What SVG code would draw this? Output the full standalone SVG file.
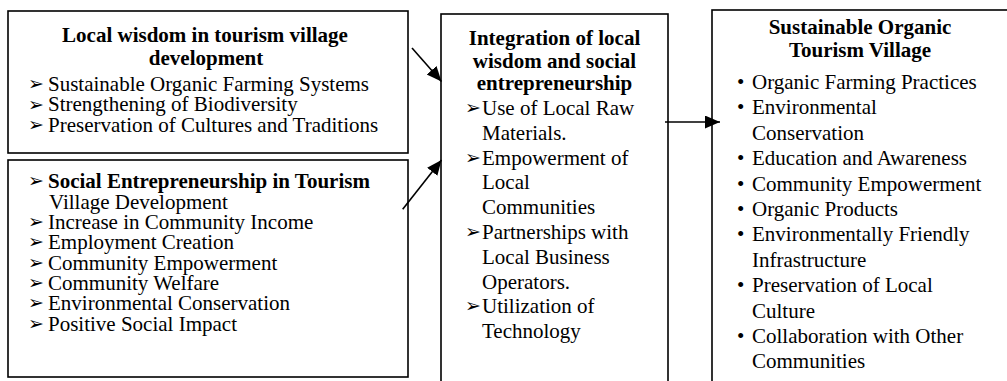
<svg xmlns="http://www.w3.org/2000/svg" width="1007" height="381" viewBox="0 0 1007 381">
  <style>
    .box { fill: #fff; stroke: #000; stroke-width: 1.6; }
    .t { font-family: 'Liberation Serif', 'Times New Roman', Tinos, 'DejaVu Serif', serif; font-size: 21px; fill: #000; }
    .b { font-weight: bold; }
    .c { text-anchor: middle; }
    .arw { font-family: 'DejaVu Sans', sans-serif; font-size: 19px; fill: #000; }
    .dot { font-family: 'Liberation Serif', 'DejaVu Serif', serif; font-size: 21px; fill: #000; }
    .link { stroke: #000; stroke-width: 1.6; fill: none; marker-end: url(#head); }
  </style>
  <defs>
    <marker id="head" markerUnits="userSpaceOnUse" markerWidth="16" markerHeight="14" refX="15" refY="6.5" orient="auto">
      <path d="M0,0 L15,6.5 L0,13 Z" fill="#000"/>
    </marker>
  </defs>
  <rect width="1007" height="381" fill="#fff"/>

  <!-- upper left: local wisdom -->
  <g id="local-wisdom">
    <rect class="box" x="8" y="11" width="400" height="142"/>
    <text class="t b c" x="205" y="42">Local wisdom in tourism village</text>
    <text class="t b c" x="206" y="65">development</text>
    <text class="arw" x="28" y="90">➢</text>
    <text class="t" x="48" y="91">Sustainable Organic Farming Systems</text>
    <text class="arw" x="28" y="110.5">➢</text>
    <text class="t" x="48" y="111.3">Strengthening of Biodiversity</text>
    <text class="arw" x="28" y="131">➢</text>
    <text class="t" x="48" y="131.6">Preservation of Cultures and Traditions</text>
  </g>

  <!-- lower left: social entrepreneurship -->
  <g id="social-entrepreneurship">
    <rect class="box" x="8" y="160" width="400" height="217"/>
    <text class="arw" x="28" y="187">➢</text>
    <text class="t b" x="48" y="188">Social Entrepreneurship in Tourism</text>
    <text class="t" x="49" y="208.5">Village Development</text>
    <text class="arw" x="28" y="228">➢</text>
    <text class="t" x="48" y="229">Increase in Community Income</text>
    <text class="arw" x="28" y="248">➢</text>
    <text class="t" x="48" y="249">Employment Creation</text>
    <text class="arw" x="28" y="268.5">➢</text>
    <text class="t" x="48" y="269.5">Community Empowerment</text>
    <text class="arw" x="28" y="289">➢</text>
    <text class="t" x="48" y="290">Community Welfare</text>
    <text class="arw" x="28" y="309">➢</text>
    <text class="t" x="48" y="310">Environmental Conservation</text>
    <text class="arw" x="28" y="329.5">➢</text>
    <text class="t" x="48" y="330.5">Positive Social Impact</text>
  </g>

  <!-- middle: integration -->
  <g id="integration">
    <rect class="box" x="441" y="14" width="227" height="380"/>
    <text class="t b c" x="554.5" y="45">Integration of local</text>
    <text class="t b c" x="554.5" y="67.5">wisdom and social</text>
    <text class="t b c" x="554.5" y="90">entrepreneurship</text>
    <text class="arw" x="465" y="114">➢</text>
    <text class="t" x="482" y="115">Use of Local Raw</text>
    <text class="t" x="482" y="139.8">Materials.</text>
    <text class="arw" x="465" y="163.6">➢</text>
    <text class="t" x="482" y="164.6">Empowerment of</text>
    <text class="t" x="482" y="189.4">Local</text>
    <text class="t" x="482" y="214.2">Communities</text>
    <text class="arw" x="465" y="238">➢</text>
    <text class="t" x="482" y="239">Partnerships with</text>
    <text class="t" x="482" y="263.8">Local Business</text>
    <text class="t" x="482" y="288.6">Operators.</text>
    <text class="arw" x="465" y="312.4">➢</text>
    <text class="t" x="482" y="313.4">Utilization of</text>
    <text class="t" x="482" y="338.2">Technology</text>
  </g>

  <!-- right: outcome -->
  <g id="organic-village">
    <rect class="box" x="712" y="10" width="310" height="390"/>
    <text class="t b c" x="860" y="34">Sustainable Organic</text>
    <text class="t b c" x="860" y="57">Tourism Village</text>
    <text class="dot" x="737" y="89">•</text>
    <text class="t" x="752" y="89">Organic Farming Practices</text>
    <text class="dot" x="737" y="114.4">•</text>
    <text class="t" x="752" y="114.4">Environmental</text>
    <text class="t" x="752" y="139.8">Conservation</text>
    <text class="dot" x="737" y="165.2">•</text>
    <text class="t" x="752" y="165.2">Education and Awareness</text>
    <text class="dot" x="737" y="190.6">•</text>
    <text class="t" x="752" y="190.6">Community Empowerment</text>
    <text class="dot" x="737" y="216">•</text>
    <text class="t" x="752" y="216">Organic Products</text>
    <text class="dot" x="737" y="241.4">•</text>
    <text class="t" x="752" y="241.4">Environmentally Friendly</text>
    <text class="t" x="752" y="266.8">Infrastructure</text>
    <text class="dot" x="737" y="292.2">•</text>
    <text class="t" x="752" y="292.2">Preservation of Local</text>
    <text class="t" x="752" y="317.6">Culture</text>
    <text class="dot" x="737" y="343">•</text>
    <text class="t" x="752" y="343">Collaboration with Other</text>
    <text class="t" x="752" y="368.4">Communities</text>
  </g>

  <g id="connectors">
    <line class="link" x1="412" y1="48" x2="441.5" y2="81.5"/>
    <line class="link" x1="402.7" y1="209.3" x2="441.5" y2="160"/>
    <line class="link" x1="665" y1="122" x2="720" y2="122"/>
  </g>
</svg>
